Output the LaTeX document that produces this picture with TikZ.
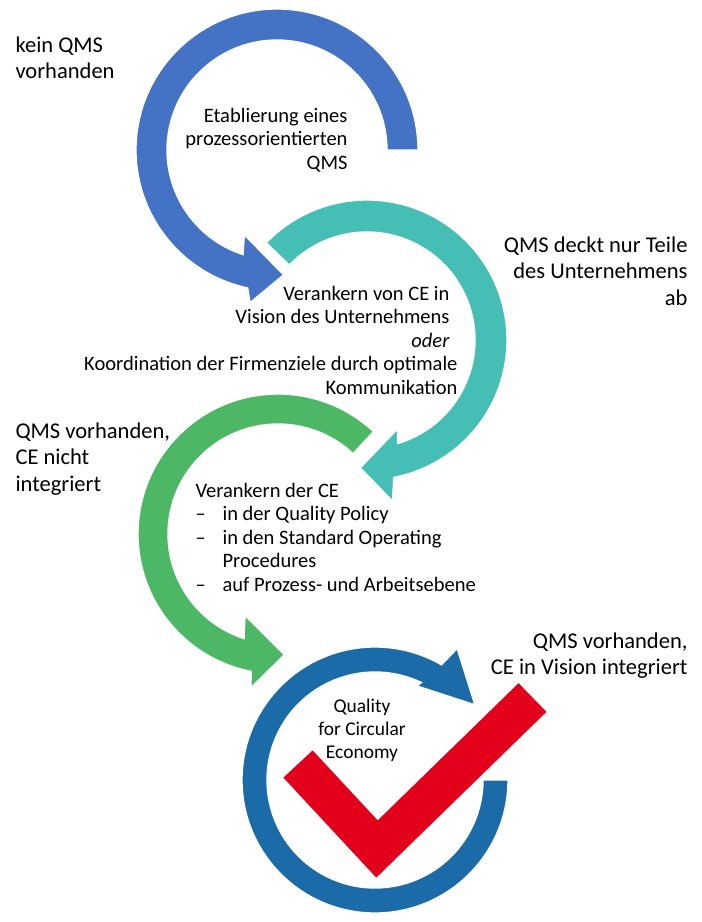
\documentclass[tikz,border=0pt]{standalone}
\usepackage{fontspec}
\setmainfont{Carlito}

\definecolor{arrBlue}{HTML}{4472C4}
\definecolor{arrTeal}{HTML}{45BFB5}
\definecolor{arrGreen}{HTML}{4CB865}
\definecolor{ringBlue}{HTML}{1C6BA9}
\definecolor{checkRed}{HTML}{E2001A}

\tikzset{every picture/.style={line width=0.75pt}}
\tikzset{
  outerlbl/.style={inner sep=0pt, font=\fontsize{16.9}{19.9}\selectfont},
  innerlbl/.style={inner sep=0pt, font=\fontsize{15.4}{17.6}\selectfont},
  ringlbl/.style={inner sep=0pt, font=\fontsize{14.6}{17.2}\selectfont},
  bandfill/.style={draw=white, line width=1pt},
}
\newcommand{\cedash}[1]{\makebox[20.3pt][l]{–}#1}
\newcommand{\trailgap}{\rule{6pt}{0pt}}

\begin{document}
\begin{tikzpicture}[x=0.75pt,y=0.75pt,yscale=-1,xscale=1]
	\useasboundingbox (0,0) rectangle (701,922);

	\coordinate (cB) at (277,150);
	\coordinate (cT) at (367,340);
	\coordinate (cG) at (278,534);
	\coordinate (cR) at (375,780);

	%Shape: Circular Arrow [blue]
	\fill[arrBlue, bandfill] ([shift={(0:141)}]cB) arc[start angle=0, end angle=-258, radius=141] -- ([shift={(-260:155)}]cB) -- ([shift={(-273:125)}]cB) -- ([shift={(-249:91)}]cB) -- ([shift={(-252:110)}]cB) arc[start angle=-252, end angle=0, radius=110] -- cycle ;
	%Shape: Circular Arrow [teal]
	\fill[arrTeal, bandfill] ([shift={(-136:140)}]cT) arc[start angle=-136, end angle=79, radius=140] -- ([shift={(81:163)}]cT) -- ([shift={(93:128)}]cT) -- ([shift={(71:94)}]cT) -- ([shift={(73.5:108)}]cT) arc[start angle=73.5, end angle=-136, radius=108] -- cycle ;
	%Shape: Circular Arrow [green]
	\fill[arrGreen, bandfill] ([shift={(-47:140)}]cG) arc[start angle=-47, end angle=-259, radius=140] -- ([shift={(-260:156)}]cG) -- ([shift={(-273:121)}]cG) -- ([shift={(-248:88)}]cG) -- ([shift={(-252:110)}]cG) arc[start angle=-252, end angle=-47, radius=110] -- cycle ;
	%Shape: Circular Arrow [ring]
	\fill[ringBlue, bandfill] ([shift={(0:133)}]cR) arc[start angle=0, end angle=300, radius=133] -- ([shift={(302:155)}]cR) -- ([shift={(323:125)}]cR) -- ([shift={(294:103)}]cR) -- ([shift={(295.5:108)}]cR) arc[start angle=295.5, end angle=0, radius=108] -- cycle ;
	%Straight Lines [check mark]
	\draw [checkRed, line width=30, miter limit=4] (298,764) -- (377,849) -- (532.5,697.5) ;

	% Text Node
	\draw (15,36) node[outerlbl, anchor=north west, align=left] (lblKein) {kein QMS\\vorhanden};
	% Text Node
	\draw (688,236) node[outerlbl, anchor=north east, align=right] (lblTeile) {QMS deckt nur Teile\\des Unternehmens\\ab};
	% Text Node
	\draw (15,422) node[outerlbl, anchor=north west, align=left] (lblNicht) {QMS vorhanden,\\CE nicht\\integriert};
	% Text Node
	\draw (688,632) node[outerlbl, anchor=north east, align=right] (lblVision) {QMS vorhanden,\\CE in Vision integriert};
	% Text Node
	\draw (348,107.6) node[innerlbl, anchor=north east, align=right] (txtEtab) {Etablierung eines\\prozessorientierten\\QMS};
	% Text Node
	\draw (458,285.6) node[innerlbl, anchor=north east, align=right] (txtAnker) {Verankern von CE in\trailgap\\Vision des Unternehmens\trailgap\\\textit{oder}\trailgap\\Koordination der Firmenziele durch optimale\\Kommunikation};
	% Text Node
	\draw (195,482.6) node[innerlbl, anchor=north west, align=left] (txtPolicy) {Verankern der CE\\\cedash{in der Quality Policy}\\\cedash{in den Standard Operating}\\\hspace*{20.3pt}Procedures\\\cedash{auf Prozess- und Arbeitsebene}};
	% Text Node
	\draw (362,698.4) node[ringlbl, anchor=north, align=center] (txtQuality) {Quality\\for Circular\\Economy};

\end{tikzpicture}
\end{document}
